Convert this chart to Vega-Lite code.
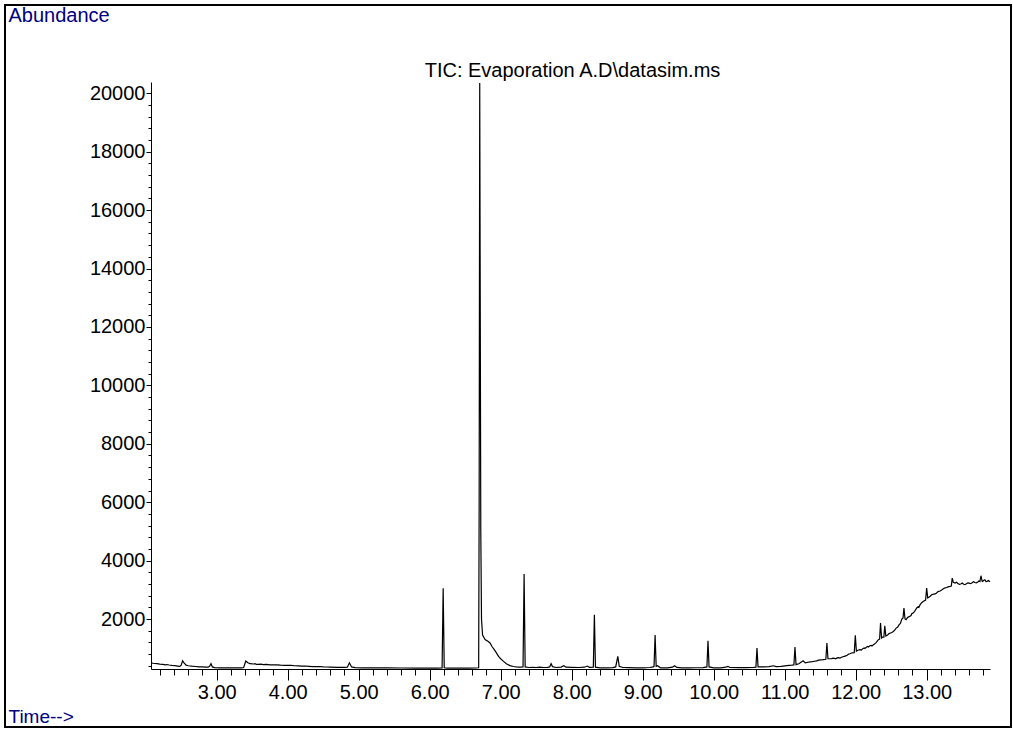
{
  "$schema": "https://vega.github.io/schema/vega-lite/v6.json",
  "width": 839,
  "height": 587,
  "autosize": {"type": "none"},
  "padding": {"left": 151, "top": 82, "right": 23, "bottom": 60},
  "background": "white",
  "config": {"view": {"stroke": null}, "font": "Liberation Sans"},
  "title": {
    "text": "TIC: Evaporation A.D\\datasim.ms",
    "anchor": "middle",
    "frame": "group",
    "fontSize": 20,
    "fontWeight": "normal",
    "font": "Liberation Sans",
    "color": "black",
    "offset": 0,
    "baseline": "alphabetic",
    "dx": 2,
    "dy": 93
  },
  "layer": [
    {
      "data": {"values": [{"frame": "outer"}]},
      "mark": {"type": "rect", "fill": null, "stroke": "black", "strokeWidth": 2},
      "encoding": {
        "x": {"value": -146},
        "x2": {"value": 860},
        "y": {"value": -77},
        "y2": {"value": 645}
      }
    },
    {
      "data": {"name": "tic"},
      "mark": {"type": "line", "color": "black", "strokeWidth": 1.2},
      "encoding": {
        "x": {
          "field": "time", "type": "quantitative",
          "scale": {"domain": [2.075, 13.892], "nice": false, "zero": false},
          "axis": {
            "orient": "bottom", "values": [3, 4, 5, 6, 7, 8, 9, 10, 11, 12, 13],
            "format": ".2f", "tickSize": 11, "tickColor": "black", "domainColor": "black",
            "labelFont": "Liberation Sans", "labelFontSize": 20, "labelColor": "black",
            "labelPadding": 2, "grid": false, "labelFlush": false, "labelOverlap": false,
            "title": "Time-->", "titleX": -143, "titleY": 53, "titleAlign": "left",
            "titleBaseline": "alphabetic", "titleColor": "#000080", "titleFont": "Liberation Sans",
            "titleFontSize": 19, "titleFontWeight": "normal"
          }
        },
        "y": {
          "field": "abundance", "type": "quantitative",
          "scale": {"domain": [289, 20387], "nice": false, "zero": false},
          "axis": {
            "orient": "left", "values": [2000, 4000, 6000, 8000, 10000, 12000, 14000, 16000, 18000, 20000],
            "format": "d", "tickSize": 5, "tickColor": "black", "domainColor": "black",
            "labelFont": "Liberation Sans", "labelFontSize": 20, "labelColor": "black",
            "labelPadding": 1, "grid": false, "labelFlush": false, "labelOverlap": false,
            "title": "Abundance", "titleAngle": 0, "titleX": -143, "titleY": -61, "titleAlign": "left",
            "titleBaseline": "alphabetic", "titleColor": "#000080", "titleFont": "Liberation Sans",
            "titleFontSize": 20, "titleFontWeight": "normal"
          }
        }
      }
    },
    {
      "data": {"name": "tic"},
      "mark": {"type": "line", "opacity": 0},
      "encoding": {
        "x": {
          "field": "time", "type": "quantitative",
          "axis": {
            "orient": "bottom",
            "values": [2.2, 2.4, 2.6, 2.8, 3.2, 3.4, 3.6, 3.8, 4.2, 4.4, 4.6, 4.8, 5.2, 5.4, 5.6, 5.8, 6.2, 6.4, 6.6, 6.8, 7.2, 7.4, 7.6, 7.8, 8.2, 8.4, 8.6, 8.8, 9.2, 9.4, 9.6, 9.8, 10.2, 10.4, 10.6, 10.8, 11.2, 11.4, 11.6, 11.8, 12.2, 12.4, 12.6, 12.8, 13.2, 13.4, 13.6, 13.8],
            "tickSize": 6, "tickColor": "black", "labels": false, "domain": false, "grid": false, "title": null
          }
        },
        "y": {
          "field": "abundance", "type": "quantitative",
          "axis": {
            "orient": "left",
            "values": [400, 800, 1200, 1600, 2400, 2800, 3200, 3600, 4400, 4800, 5200, 5600, 6400, 6800, 7200, 7600, 8400, 8800, 9200, 9600, 10400, 10800, 11200, 11600, 12400, 12800, 13200, 13600, 14400, 14800, 15200, 15600, 16400, 16800, 17200, 17600, 18400, 18800, 19200, 19600],
            "tickSize": 3, "tickColor": "black", "labels": false, "domain": false, "grid": false, "title": null
          }
        }
      }
    }
  ],
  "resolve": {"axis": {"x": "independent", "y": "independent"}},
  "datasets": {
    "tic": [
      {"time": 2.075, "abundance": 505}, {"time": 2.10, "abundance": 485}, {"time": 2.13, "abundance": 478},
      {"time": 2.16, "abundance": 470}, {"time": 2.20, "abundance": 455}, {"time": 2.24, "abundance": 448},
      {"time": 2.28, "abundance": 430}, {"time": 2.30, "abundance": 442}, {"time": 2.33, "abundance": 425},
      {"time": 2.37, "abundance": 410}, {"time": 2.41, "abundance": 402}, {"time": 2.45, "abundance": 390},
      {"time": 2.48, "abundance": 380}, {"time": 2.50, "abundance": 420}, {"time": 2.52, "abundance": 570},
      {"time": 2.54, "abundance": 500}, {"time": 2.57, "abundance": 420}, {"time": 2.60, "abundance": 400},
      {"time": 2.65, "abundance": 385}, {"time": 2.70, "abundance": 375}, {"time": 2.75, "abundance": 365},
      {"time": 2.80, "abundance": 360}, {"time": 2.85, "abundance": 355}, {"time": 2.88, "abundance": 350},
      {"time": 2.90, "abundance": 380}, {"time": 2.92, "abundance": 470}, {"time": 2.94, "abundance": 360},
      {"time": 2.97, "abundance": 335}, {"time": 3.05, "abundance": 330}, {"time": 3.15, "abundance": 330},
      {"time": 3.25, "abundance": 328}, {"time": 3.35, "abundance": 330}, {"time": 3.38, "abundance": 340},
      {"time": 3.41, "abundance": 560}, {"time": 3.44, "abundance": 500}, {"time": 3.47, "abundance": 470},
      {"time": 3.52, "abundance": 460}, {"time": 3.54, "abundance": 470}, {"time": 3.56, "abundance": 445},
      {"time": 3.58, "abundance": 450}, {"time": 3.62, "abundance": 458},
      {"time": 3.66, "abundance": 440}, {"time": 3.70, "abundance": 447}, {"time": 3.75, "abundance": 430},
      {"time": 3.80, "abundance": 428}, {"time": 3.85, "abundance": 432}, {"time": 3.90, "abundance": 420},
      {"time": 3.95, "abundance": 412}, {"time": 4.00, "abundance": 410}, {"time": 4.05, "abundance": 415},
      {"time": 4.10, "abundance": 400}, {"time": 4.15, "abundance": 398}, {"time": 4.20, "abundance": 390},
      {"time": 4.25, "abundance": 392}, {"time": 4.30, "abundance": 380}, {"time": 4.35, "abundance": 370},
      {"time": 4.40, "abundance": 372}, {"time": 4.45, "abundance": 375}, {"time": 4.50, "abundance": 365},
      {"time": 4.55, "abundance": 358}, {"time": 4.60, "abundance": 355},
      {"time": 4.70, "abundance": 348}, {"time": 4.80, "abundance": 342}, {"time": 4.84, "abundance": 350},
      {"time": 4.87, "abundance": 500}, {"time": 4.90, "abundance": 360}, {"time": 4.95, "abundance": 335},
      {"time": 5.05, "abundance": 330}, {"time": 5.20, "abundance": 328}, {"time": 5.40, "abundance": 325},
      {"time": 5.60, "abundance": 323}, {"time": 5.80, "abundance": 322}, {"time": 6.00, "abundance": 320},
      {"time": 6.10, "abundance": 322}, {"time": 6.175, "abundance": 330}, {"time": 6.19, "abundance": 3050},
      {"time": 6.205, "abundance": 330}, {"time": 6.25, "abundance": 320}, {"time": 6.35, "abundance": 322},
      {"time": 6.45, "abundance": 320}, {"time": 6.55, "abundance": 322}, {"time": 6.65, "abundance": 323},
      {"time": 6.69, "abundance": 330}, {"time": 6.697, "abundance": 6000}, {"time": 6.705, "abundance": 20352},
      {"time": 6.712, "abundance": 13000}, {"time": 6.72, "abundance": 5000}, {"time": 6.73, "abundance": 2000},
      {"time": 6.745, "abundance": 1450}, {"time": 6.78, "abundance": 1300}, {"time": 6.82, "abundance": 1240},
      {"time": 6.85, "abundance": 1180}, {"time": 6.88, "abundance": 1050}, {"time": 6.91, "abundance": 950},
      {"time": 6.94, "abundance": 840}, {"time": 6.97, "abundance": 720}, {"time": 7.00, "abundance": 640},
      {"time": 7.04, "abundance": 550}, {"time": 7.08, "abundance": 470}, {"time": 7.13, "abundance": 405},
      {"time": 7.18, "abundance": 375}, {"time": 7.22, "abundance": 360}, {"time": 7.27, "abundance": 355},
      {"time": 7.315, "abundance": 360}, {"time": 7.33, "abundance": 3540}, {"time": 7.345, "abundance": 360},
      {"time": 7.40, "abundance": 340}, {"time": 7.45, "abundance": 345}, {"time": 7.50, "abundance": 340},
      {"time": 7.55, "abundance": 350}, {"time": 7.60, "abundance": 340}, {"time": 7.66, "abundance": 345},
      {"time": 7.69, "abundance": 360}, {"time": 7.71, "abundance": 470}, {"time": 7.73, "abundance": 370},
      {"time": 7.78, "abundance": 340}, {"time": 7.85, "abundance": 355}, {"time": 7.89, "abundance": 400},
      {"time": 7.92, "abundance": 350}, {"time": 8.00, "abundance": 345}, {"time": 8.10, "abundance": 340},
      {"time": 8.18, "abundance": 350}, {"time": 8.22, "abundance": 390}, {"time": 8.25, "abundance": 345},
      {"time": 8.305, "abundance": 350}, {"time": 8.32, "abundance": 2147}, {"time": 8.335, "abundance": 350},
      {"time": 8.40, "abundance": 330}, {"time": 8.50, "abundance": 330}, {"time": 8.58, "abundance": 335},
      {"time": 8.62, "abundance": 360}, {"time": 8.65, "abundance": 720}, {"time": 8.67, "abundance": 380},
      {"time": 8.72, "abundance": 340}, {"time": 8.80, "abundance": 335}, {"time": 8.90, "abundance": 330},
      {"time": 9.00, "abundance": 330}, {"time": 9.10, "abundance": 340}, {"time": 9.15, "abundance": 360},
      {"time": 9.16, "abundance": 380}, {"time": 9.175, "abundance": 1452}, {"time": 9.19, "abundance": 380},
      {"time": 9.21, "abundance": 400}, {"time": 9.25, "abundance": 330}, {"time": 9.35, "abundance": 330},
      {"time": 9.42, "abundance": 350}, {"time": 9.45, "abundance": 400}, {"time": 9.48, "abundance": 345},
      {"time": 9.55, "abundance": 330}, {"time": 9.65, "abundance": 330}, {"time": 9.75, "abundance": 332},
      {"time": 9.85, "abundance": 335}, {"time": 9.905, "abundance": 360}, {"time": 9.92, "abundance": 1257},
      {"time": 9.935, "abundance": 360}, {"time": 10.00, "abundance": 330}, {"time": 10.10, "abundance": 330},
      {"time": 10.17, "abundance": 350}, {"time": 10.20, "abundance": 380}, {"time": 10.23, "abundance": 340},
      {"time": 10.35, "abundance": 335}, {"time": 10.45, "abundance": 335}, {"time": 10.55, "abundance": 340},
      {"time": 10.595, "abundance": 350}, {"time": 10.61, "abundance": 1008}, {"time": 10.625, "abundance": 360},
      {"time": 10.70, "abundance": 360}, {"time": 10.78, "abundance": 370}, {"time": 10.84, "abundance": 400},
      {"time": 10.88, "abundance": 370}, {"time": 10.95, "abundance": 380}, {"time": 11.03, "abundance": 402},
      {"time": 11.10, "abundance": 420}, {"time": 11.13, "abundance": 430}, {"time": 11.145, "abundance": 1042},
      {"time": 11.16, "abundance": 440}, {"time": 11.20, "abundance": 470}, {"time": 11.26, "abundance": 573},
      {"time": 11.29, "abundance": 500}, {"time": 11.33, "abundance": 520}, {"time": 11.36, "abundance": 535},
      {"time": 11.39, "abundance": 540}, {"time": 11.42, "abundance": 555}, {"time": 11.45, "abundance": 565},
      {"time": 11.48, "abundance": 590}, {"time": 11.51, "abundance": 600}, {"time": 11.54, "abundance": 607},
      {"time": 11.58, "abundance": 620}, {"time": 11.595, "abundance": 1179}, {"time": 11.61, "abundance": 640},
      {"time": 11.66, "abundance": 645}, {"time": 11.68, "abundance": 660}, {"time": 11.70, "abundance": 650},
      {"time": 11.72, "abundance": 640}, {"time": 11.74, "abundance": 670}, {"time": 11.76, "abundance": 680},
      {"time": 11.78, "abundance": 665}, {"time": 11.80, "abundance": 690}, {"time": 11.82, "abundance": 710},
      {"time": 11.84, "abundance": 720}, {"time": 11.86, "abundance": 740}, {"time": 11.88, "abundance": 760},
      {"time": 11.90, "abundance": 800}, {"time": 11.92, "abundance": 810}, {"time": 11.94, "abundance": 836},
      {"time": 11.98, "abundance": 850},
      {"time": 11.995, "abundance": 1439}, {"time": 12.01, "abundance": 900}, {"time": 12.03, "abundance": 930},
      {"time": 12.06, "abundance": 949}, {"time": 12.08, "abundance": 940}, {"time": 12.10, "abundance": 985},
      {"time": 12.12, "abundance": 1010}, {"time": 12.13, "abundance": 990}, {"time": 12.15, "abundance": 1030},
      {"time": 12.17, "abundance": 1060}, {"time": 12.18, "abundance": 1040}, {"time": 12.20, "abundance": 1085},
      {"time": 12.22, "abundance": 1100}, {"time": 12.23, "abundance": 1080}, {"time": 12.25, "abundance": 1121},
      {"time": 12.27, "abundance": 1150}, {"time": 12.29, "abundance": 1200}, {"time": 12.32, "abundance": 1292},
      {"time": 12.337, "abundance": 1310}, {"time": 12.35, "abundance": 1863}, {"time": 12.365, "abundance": 1350},
      {"time": 12.38, "abundance": 1380}, {"time": 12.397, "abundance": 1380}, {"time": 12.41, "abundance": 1771},
      {"time": 12.425, "abundance": 1420}, {"time": 12.45, "abundance": 1455}, {"time": 12.47, "abundance": 1500},
      {"time": 12.49, "abundance": 1520}, {"time": 12.51, "abundance": 1540}, {"time": 12.53, "abundance": 1576},
      {"time": 12.55, "abundance": 1620}, {"time": 12.57, "abundance": 1690}, {"time": 12.59, "abundance": 1720},
      {"time": 12.61, "abundance": 1800}, {"time": 12.63, "abundance": 1850},
      {"time": 12.65, "abundance": 2000}, {"time": 12.667, "abundance": 2040}, {"time": 12.68, "abundance": 2376},
      {"time": 12.695, "abundance": 2000}, {"time": 12.71, "abundance": 1976}, {"time": 12.73, "abundance": 2050},
      {"time": 12.76, "abundance": 2090}, {"time": 12.78, "abundance": 2120}, {"time": 12.79, "abundance": 2180},
      {"time": 12.81, "abundance": 2205}, {"time": 12.83, "abundance": 2260}, {"time": 12.84, "abundance": 2300},
      {"time": 12.86, "abundance": 2380}, {"time": 12.88, "abundance": 2420}, {"time": 12.89, "abundance": 2400},
      {"time": 12.91, "abundance": 2500}, {"time": 12.93, "abundance": 2560},
      {"time": 12.95, "abundance": 2602}, {"time": 12.985, "abundance": 2650}, {"time": 13.00, "abundance": 3061},
      {"time": 13.015, "abundance": 2720}, {"time": 13.05, "abundance": 2780}, {"time": 13.07, "abundance": 2830},
      {"time": 13.10, "abundance": 2850}, {"time": 13.12, "abundance": 2860},
      {"time": 13.14, "abundance": 2890}, {"time": 13.16, "abundance": 2940}, {"time": 13.19, "abundance": 2960},
      {"time": 13.21, "abundance": 2990}, {"time": 13.23, "abundance": 3027}, {"time": 13.25, "abundance": 3060},
      {"time": 13.28, "abundance": 3080}, {"time": 13.30, "abundance": 3100}, {"time": 13.33, "abundance": 3116},
      {"time": 13.347, "abundance": 3130},
      {"time": 13.36, "abundance": 3403}, {"time": 13.375, "abundance": 3260}, {"time": 13.40, "abundance": 3232},
      {"time": 13.42, "abundance": 3260}, {"time": 13.44, "abundance": 3220}, {"time": 13.46, "abundance": 3190},
      {"time": 13.48, "abundance": 3200}, {"time": 13.50, "abundance": 3230}, {"time": 13.52, "abundance": 3190},
      {"time": 13.54, "abundance": 3180}, {"time": 13.56, "abundance": 3208}, {"time": 13.58, "abundance": 3240},
      {"time": 13.60, "abundance": 3230}, {"time": 13.62, "abundance": 3210}, {"time": 13.64, "abundance": 3240},
      {"time": 13.66, "abundance": 3280}, {"time": 13.68, "abundance": 3252}, {"time": 13.70, "abundance": 3240},
      {"time": 13.72, "abundance": 3270}, {"time": 13.735, "abundance": 3300}, {"time": 13.75, "abundance": 3280},
      {"time": 13.765, "abundance": 3482}, {"time": 13.78, "abundance": 3300}, {"time": 13.79, "abundance": 3287},
      {"time": 13.80, "abundance": 3320}, {"time": 13.82, "abundance": 3345}, {"time": 13.835, "abundance": 3280},
      {"time": 13.85, "abundance": 3290}, {"time": 13.87, "abundance": 3320}, {"time": 13.892, "abundance": 3276}
    ]
  }
}
